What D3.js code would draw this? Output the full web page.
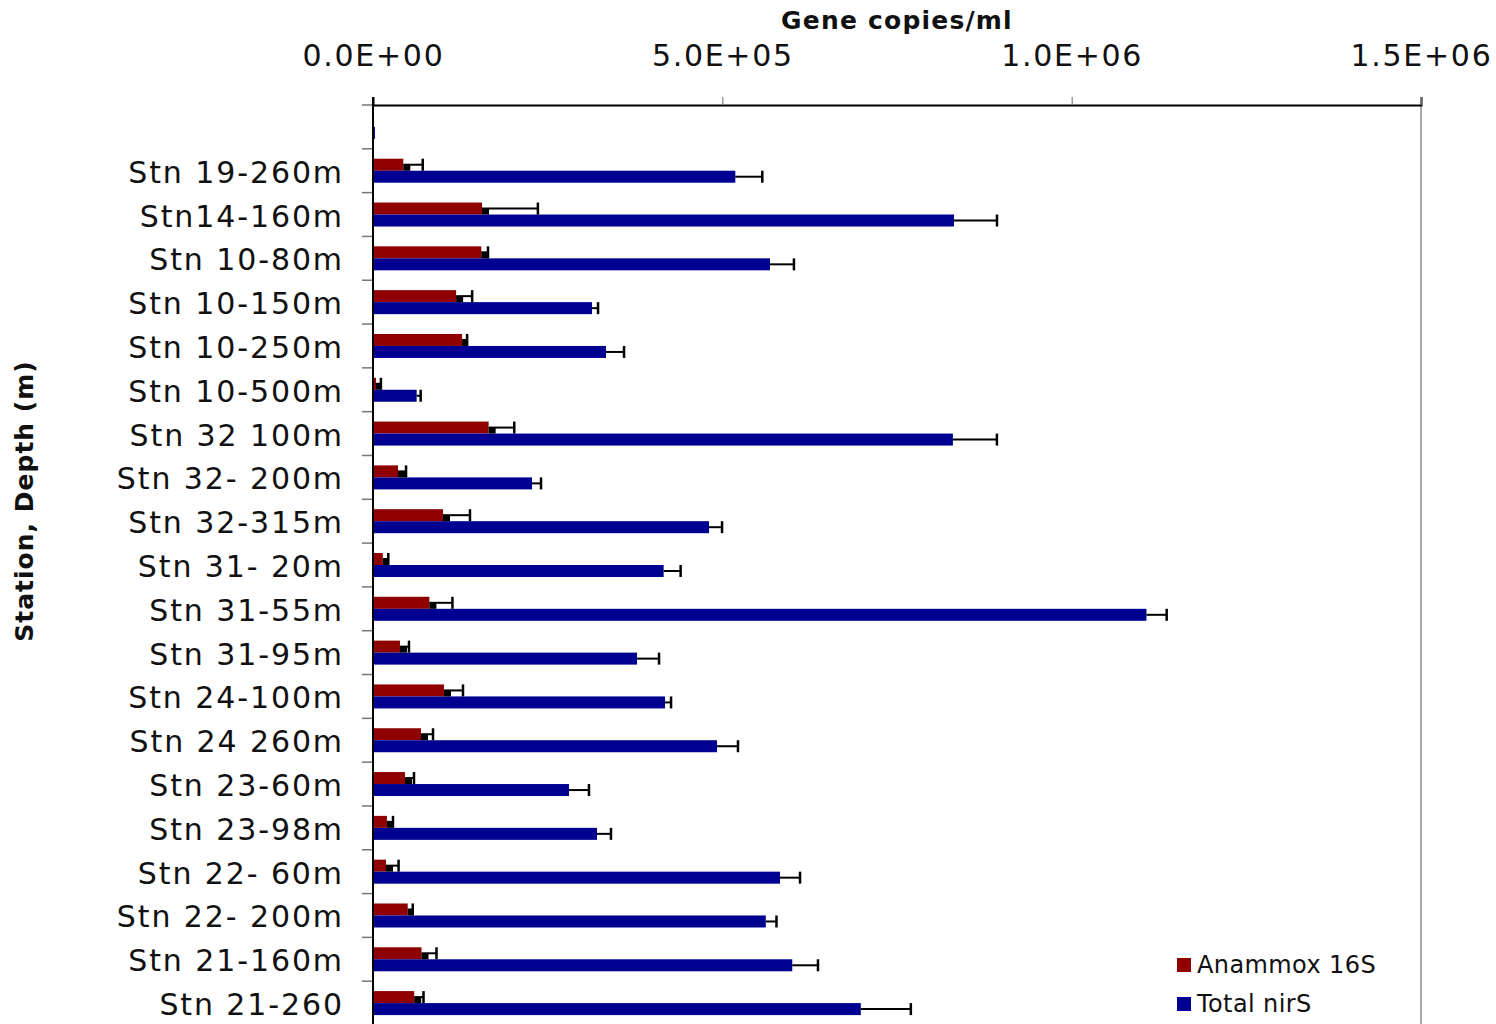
<!DOCTYPE html>
<html>
<head>
<meta charset="utf-8">
<script src="https://cdn.jsdelivr.net/npm/d3@7"></script>
<style>
  body { margin: 0; background: #fff; }
  svg { display: block; }
</style>
</head>
<body>
<svg id="chart"></svg>
<script>
// Stations, top to bottom (first row is an empty category in the original)
const stations = ['', 'Stn 19-260m', 'Stn14-160m', 'Stn 10-80m', 'Stn 10-150m', 'Stn 10-250m',
  'Stn 10-500m', 'Stn 32 100m', 'Stn 32- 200m', 'Stn 32-315m', 'Stn 31- 20m', 'Stn 31-55m',
  'Stn 31-95m', 'Stn 24-100m', 'Stn 24 260m', 'Stn 23-60m', 'Stn 23-98m', 'Stn 22- 60m',
  'Stn 22- 200m', 'Stn 21-160m', 'Stn 21-260'];

const anammox = [0, 43400, 156000, 155000, 119000, 127500, 4300, 165500, 35800, 100200, 14000,
  80700, 38600, 101600, 68700, 45800, 20000, 18600, 49700, 69400, 59000];
const anammoxErr = [0, 27800, 80000, 9600, 22900, 7200, 7000, 36700, 11500, 38600, 7900,
  33000, 12900, 27200, 17200, 12900, 8600, 18000, 7200, 21500, 13300];

const nirS = [2800, 518600, 831600, 568200, 313500, 333500, 62500, 830000, 227600, 481000, 416000,
  1107000, 377900, 418000, 492400, 280500, 320600, 582600, 562200, 600100, 698200];
const nirSErr = [0, 38600, 61500, 34300, 8600, 25800, 5700, 63000, 12900, 18600, 24300,
  29000, 31500, 8600, 30000, 28600, 20000, 28600, 15300, 36800, 71600];

const xTicks = [0, 500000, 1000000, 1500000];
const seriesNames = ['Anammox 16S', 'Total nirS'];
const colors = ['#8f0000', '#000091'];

const W = 1496, H = 1024;
const margin = { top: 105, right: 75, bottom: -1, left: 373 };
const width = W - margin.left - margin.right;
const height = H - margin.top - margin.bottom;
const font = '"DejaVu Sans", Verdana, sans-serif';

const svg = d3.select('#chart')
  .attr('width', W)
  .attr('height', H);

const g = svg.append('g')
  .attr('transform', `translate(${margin.left}, ${margin.top})`);

// Scales
const x = d3.scaleLinear().domain([0, 1500000]).range([0, width]);
const y = d3.scaleBand().domain(stations.map((s, i) => i)).range([0, height]).padding(0);
const sub = d3.scaleBand().domain([0, 1]).range([y.bandwidth() / 2 - 12, y.bandwidth() / 2 + 12]);

// Rows of data per station
const rows = stations.map((s, i) => ({
  i,
  vals: [
    { k: 0, v: anammox[i], e: anammoxErr[i] },
    { k: 1, v: nirS[i], e: nirSErr[i] }
  ]
}));

// Right frame line
g.append('line')
  .attr('x1', width).attr('x2', width)
  .attr('y1', 0).attr('y2', height)
  .attr('stroke', '#8c8c8c').attr('stroke-width', 1.5);

// Bars
const grp = g.selectAll('.row')
  .data(rows)
  .enter()
  .append('g')
  .attr('class', 'row')
  .attr('transform', d => `translate(0, ${y(d.i)})`);

grp.selectAll('rect.bar')
  .data(d => d.vals)
  .enter()
  .append('rect')
  .attr('class', 'bar')
  .attr('x', x(0))
  .attr('y', d => sub(d.k))
  .attr('width', d => x(d.v) - x(0))
  .attr('height', sub.bandwidth())
  .attr('fill', d => colors[d.k]);

// Error bars (plus side only)
const errs = grp.selectAll('g.err')
  .data(d => d.vals.filter(v => v.e > 0))
  .enter()
  .append('g')
  .attr('class', 'err');

errs.filter(d => d.k === 0)
  .append('rect')
  .attr('x', d => x(d.v))
  .attr('y', d => sub(d.k) + sub.bandwidth() / 2)
  .attr('width', d => Math.min(7, x(d.v + d.e) - x(d.v)))
  .attr('height', sub.bandwidth() / 2)
  .attr('fill', '#000');

errs.append('line')
  .attr('x1', d => x(d.v))
  .attr('x2', d => x(d.v + d.e))
  .attr('y1', d => sub(d.k) + sub.bandwidth() / 2)
  .attr('y2', d => sub(d.k) + sub.bandwidth() / 2)
  .attr('stroke', '#000').attr('stroke-width', 2);

errs.append('line')
  .attr('x1', d => x(d.v + d.e))
  .attr('x2', d => x(d.v + d.e))
  .attr('y1', d => sub(d.k))
  .attr('y2', d => sub(d.k) + sub.bandwidth())
  .attr('stroke', '#000').attr('stroke-width', 2.5);

// Top axis
const xAxis = d3.axisTop(x).tickValues(xTicks).tickSize(8).tickPadding(31)
  .tickFormat(d => d3.format('.1e')(d).replace('e', 'E').replace(/E([+-])(\d)$/, 'E$10$2'));
const xg = g.append('g').call(xAxis);
xg.select('.domain').attr('stroke', '#000').attr('stroke-width', 2);
xg.selectAll('.tick line').attr('stroke', '#666');
xg.selectAll('.tick text')
  .attr('font-family', font)
  .attr('font-size', 30)
  .attr('letter-spacing', 1.7)
  .attr('fill', '#111');

// Left axis
const yAxis = d3.axisLeft(y).tickSize(0).tickPadding(29).tickFormat(i => stations[i]);
const yg = g.append('g').call(yAxis);
yg.select('.domain').remove();
yg.selectAll('.tick text')
  .attr('font-family', font)
  .attr('font-size', 30)
  .attr('letter-spacing', 1.9)
  .attr('dy', '0.4em')
  .attr('fill', '#111');

// Category separator ticks and left axis line
g.selectAll('.cat-tick')
  .data(stations.map((s, i) => i))
  .enter()
  .append('line')
  .attr('x1', -11).attr('x2', 0)
  .attr('y1', i => y(i)).attr('y2', i => y(i))
  .attr('stroke', '#777').attr('stroke-width', 1.5);

g.append('line')
  .attr('x1', 0).attr('x2', 0)
  .attr('y1', -8).attr('y2', height)
  .attr('stroke', '#000').attr('stroke-width', 2);

// Axis titles
svg.append('text')
  .attr('x', margin.left + width / 2)
  .attr('y', 29)
  .attr('text-anchor', 'middle')
  .attr('font-family', font)
  .attr('font-weight', 'bold')
  .attr('font-size', 25)
  .attr('letter-spacing', 1.2)
  .attr('fill', '#111')
  .text('Gene copies/ml');

svg.append('text')
  .attr('transform', 'translate(33, 501) rotate(-90)')
  .attr('text-anchor', 'middle')
  .attr('font-family', font)
  .attr('font-weight', 'bold')
  .attr('font-size', 25)
  .attr('letter-spacing', 1)
  .attr('fill', '#111')
  .text('Station, Depth (m)');

// Legend
const legend = svg.append('g').attr('transform', 'translate(1177, 958)');
seriesNames.forEach((name, k) => {
  const lg = legend.append('g').attr('transform', `translate(0, ${k * 39})`);
  lg.append('rect').attr('width', 14).attr('height', 14).attr('fill', colors[k]);
  lg.append('text')
    .attr('x', 20).attr('y', 15)
    .attr('font-family', font)
    .attr('font-size', 24)
    .attr('letter-spacing', 0.4)
    .attr('fill', '#111')
    .text(name);
});
</script>
</body>
</html>
